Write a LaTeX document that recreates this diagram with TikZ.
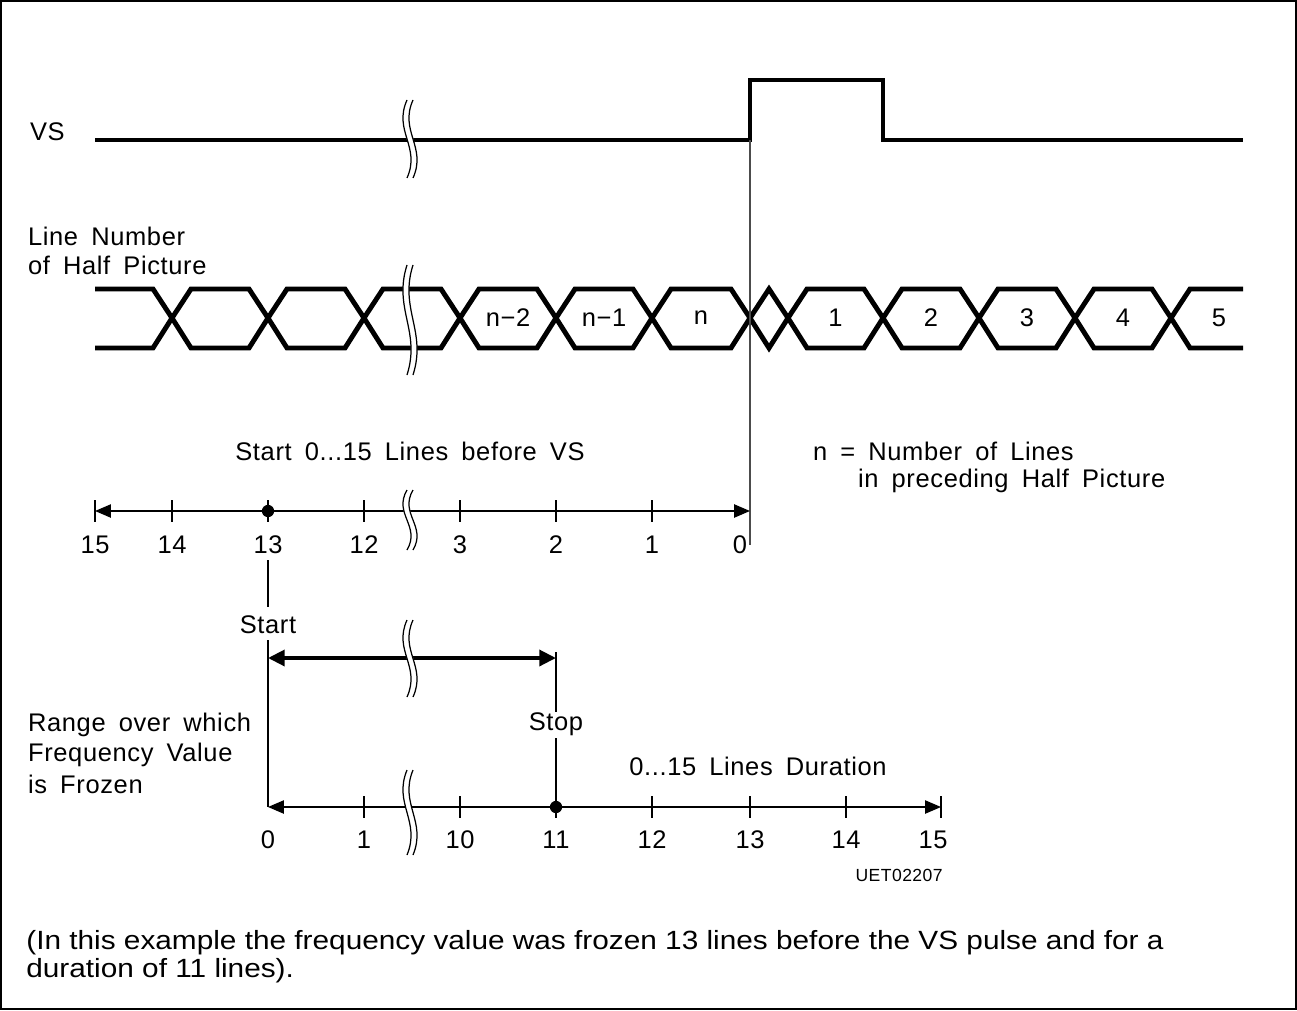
\documentclass[tikz,border=0pt]{standalone}
\usepackage{fontspec}
\setmainfont{Liberation Sans}
\newfontfamily\diafont{Liberation Sans}[LetterSpace=2.5, WordSpace=1.7]
\usetikzlibrary{arrows.meta}

% break mark: x, top, bottom
\newcommand{\brkmark}[3]{%
  \draw[white, line width=3.6pt] (#1,#2) .. controls ({#1-14},{#2+0.4*(#3-#2)}) and ({#1+14},{#2+0.6*(#3-#2)}) .. (#1,#3);
  \foreach \dx in {-3,3}
    \draw[line width=0.7pt] ({#1+\dx},#2) .. controls ({#1+\dx-14},{#2+0.4*(#3-#2)}) and ({#1+\dx+14},{#2+0.6*(#3-#2)}) .. ({#1+\dx},#3);
}
\newcommand{\wide}[1]{\scalebox{1.13}[1]{#1}}

\begin{document}
\begin{tikzpicture}[
    x=0.02cm, y=-0.02cm,
    sig/.style={line width=2.8pt},
    bus/.style={line width=2.8pt, line join=miter},
    axis/.style={line width=0.8pt, {Triangle[length=9pt,width=7.5pt]}-{Triangle[length=9pt,width=7.5pt]}},
    span/.style={line width=2.2pt, {Triangle[length=9.5pt,width=9pt]}-{Triangle[length=9.5pt,width=9pt]}},
    guide/.style={line width=0.8pt},
    tick/.style={line width=0.8pt},
    dot/.style={circle, fill, inner sep=0pt, minimum size=7pt},
    lbl/.style={font=\diafont\fontsize{14.5}{16}\selectfont, inner sep=1pt},
    num/.style={font=\diafont\fontsize{14.5}{16}\selectfont, inner sep=0pt},
    note/.style={anchor=base west, inner sep=0pt, font=\fontsize{15}{17}\selectfont}
  ]
  \useasboundingbox (0,0) rectangle (1297,1010);
  \draw[line width=0.6pt] (1,1) rectangle (1296,1009);

  % VS signal
  \node[lbl, anchor=west] (vs) at (28,132) {VS};
  \draw[sig] (95,140) -- (750,140) -- (750,80) -- (883,80) -- (883,140) -- (1243,140);
  \brkmark{410}{100}{178}

  % line number bus
  \node[lbl, anchor=west] (ln1) at (26,236) {Line Number};
  \node[lbl, anchor=west] (ln2) at (26,265) {of Half Picture};
  \draw[bus] (95,289) -- (153,289) -- (172,318) -- (153,348) -- (95,348);
  \foreach \a/\b/\t in {172/268/{},268/364/{},364/460/{},460/556/{n−2},556/652/{n−1},652/750/n,
                        750/788/{},788/883/1,883/979/2,979/1075/3,1075/1171/4}{
    \draw[bus] (\a,318) -- ({\a+19},289) -- ({\b-19},289) -- (\b,318)
               -- ({\b-19},348) -- ({\a+19},348) -- cycle;
    \node[num] (cell\a) at ({(\a+\b)/2},318) {\t};
  }
  \draw[bus] (1243,289) -- (1190,289) -- (1171,318) -- (1190,348) -- (1243,348);
  \node[num] (cell1171) at (1219,318) {5};
  \brkmark{410}{265}{375}

  % VS edge guide
  \draw[guide, black!70] (750,140) -- (750,545);

  % lines before VS
  \node[lbl] (before) at (410,451) {Start 0...15 Lines before VS};
  \node[lbl, anchor=west] (nn1) at (811,451) {n = Number of Lines};
  \node[lbl, anchor=west] (nn2) at (856,481) {in preceding Half Picture};
  \draw[axis] (95,511) -- (750,511);
  \foreach \x/\l in {95/15,172/14,268/13,364/12,460/3,556/2,652/1}{
    \draw[tick] (\x,500) -- (\x,522);
    \node[num] (a\l) at (\x,545) {\l};
  }
  \node[num] (a0) at (740,545) {0};
  \node[dot] (start) at (268,511) {};
  \brkmark{410}{490}{550}

  % frozen range
  \draw[guide] (268,560) -- (268,607);
  \node[lbl] (startlbl) at (268,625) {Start};
  \draw[guide] (268,640) -- (268,807);
  \draw[span] (268,658) -- (556,658);
  \brkmark{410}{620}{697}
  \draw[guide] (556,652) -- (556,712);
  \node[lbl] (stoplbl) at (556,724) {Stop};
  \draw[guide] (556,738) -- (556,807);

  \node[lbl, anchor=west] (rg1) at (26,725) {Range over which};
  \node[lbl, anchor=west] (rg2) at (26,755) {Frequency Value};
  \node[lbl, anchor=west] (rg3) at (26,784) {is Frozen};

  % duration axis
  \node[lbl] (dur) at (758,766) {0...15 Lines Duration};
  \draw[axis] (268,807) -- (941,807);
  \foreach \x in {364,460,556,652,750,846,941}{
    \draw[tick] (\x,796) -- (\x,818);
  }
  \foreach \x/\l in {268/0,364/1,460/10,556/11,652/12,750/13,846/14,933/15}{
    \node[num] (b\l) at (\x,840) {\l};
  }
  \node[dot] (stop) at (556,807) {};
  \brkmark{410}{770}{855}

  \node[font=\diafont\fontsize{10}{12}\selectfont, anchor=east, inner sep=0pt] (id) at (943,875) {UET02207};

  % note
  \node[note] (note1) at (26,949) {\wide{(In this example the frequency value was frozen 13 lines before the VS pulse and for a}};
  \node[note] (note2) at (26,977) {\wide{duration of 11 lines).}};
\end{tikzpicture}
\end{document}
